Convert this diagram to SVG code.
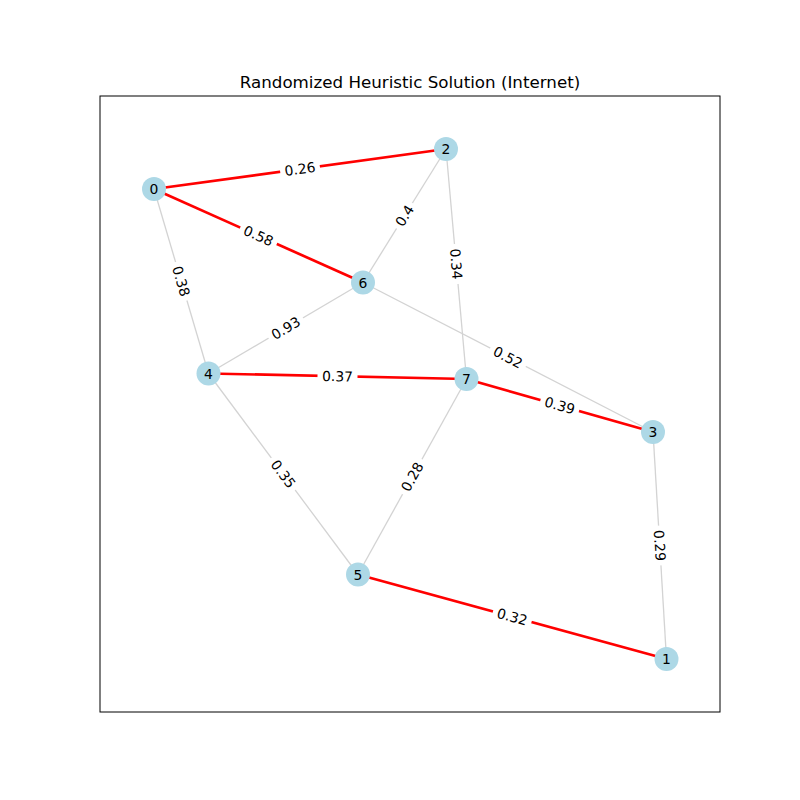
<svg xmlns="http://www.w3.org/2000/svg" width="800" height="800" viewBox="0 0 800 800">
<style>
text{font-family:"DejaVu Sans","Liberation Sans",sans-serif;fill:#000}
.title{font-size:16.7px;text-anchor:middle}
.e{stroke:#d3d3d3;stroke-width:1.3;fill:none}
.r{stroke:#ff0000;stroke-width:2.7;fill:none}
.node circle{fill:#add8e6}
.node text{font-size:13.9px;text-anchor:middle}
.lbl rect{fill:#fff}
.lbl text{font-size:13.9px;text-anchor:middle}
</style>
<rect x="0" y="0" width="800" height="800" fill="#fff"/>
<rect x="100" y="96" width="620" height="616" fill="none" stroke="#000" stroke-width="1"/>
<text class="title" x="410" y="88">Randomized Heuristic Solution (Internet)</text>
<g id="connectors">
<line class="r" x1="154" y1="189" x2="446" y2="149"/>
<line class="r" x1="154" y1="189" x2="363" y2="282.5"/>
<line class="e" x1="154" y1="189" x2="208.5" y2="373.5"/>
<line class="e" x1="446" y1="149" x2="363" y2="282.5"/>
<line class="e" x1="446" y1="149" x2="466.5" y2="379"/>
<line class="e" x1="363" y1="282.5" x2="208.5" y2="373.5"/>
<line class="e" x1="363" y1="282.5" x2="653" y2="432"/>
<line class="r" x1="208.5" y1="373.5" x2="466.5" y2="379"/>
<line class="r" x1="466.5" y1="379" x2="653" y2="432"/>
<line class="e" x1="208.5" y1="373.5" x2="358" y2="574.5"/>
<line class="e" x1="466.5" y1="379" x2="358" y2="574.5"/>
<line class="e" x1="653" y1="432" x2="666.5" y2="659"/>
<line class="r" x1="358" y1="574.5" x2="666.5" y2="659"/>
</g>
<g id="edge-labels">
<g class="lbl" transform="translate(300,169) rotate(-7.8)"><rect x="-20" y="-10" width="40" height="20" rx="4"/><text y="5">0.26</text></g>
<g class="lbl" transform="translate(258.5,235.75) rotate(24.1)"><rect x="-20" y="-10" width="40" height="20" rx="4"/><text y="5">0.58</text></g>
<g class="lbl" transform="translate(181.25,281.25) rotate(73.54)"><rect x="-20" y="-10" width="40" height="20" rx="4"/><text y="5">0.38</text></g>
<g class="lbl" transform="translate(404.5,215.75) rotate(-58.13)"><rect x="-15" y="-10" width="30" height="20" rx="4"/><text y="5">0.4</text></g>
<g class="lbl" transform="translate(456.25,264) rotate(84.9)"><rect x="-20" y="-10" width="40" height="20" rx="4"/><text y="5">0.34</text></g>
<g class="lbl" transform="translate(285.75,328) rotate(-30.5)"><rect x="-20" y="-10" width="40" height="20" rx="4"/><text y="5">0.93</text></g>
<g class="lbl" transform="translate(508,357.25) rotate(27.27)"><rect x="-20" y="-10" width="40" height="20" rx="4"/><text y="5">0.52</text></g>
<g class="lbl" transform="translate(337.5,376.25) rotate(1.22)"><rect x="-20" y="-10" width="40" height="20" rx="4"/><text y="5">0.37</text></g>
<g class="lbl" transform="translate(559.75,405.5) rotate(15.86)"><rect x="-20" y="-10" width="40" height="20" rx="4"/><text y="5">0.39</text></g>
<g class="lbl" transform="translate(283.25,474) rotate(53.35)"><rect x="-20" y="-10" width="40" height="20" rx="4"/><text y="5">0.35</text></g>
<g class="lbl" transform="translate(412.25,476.75) rotate(-60.97)"><rect x="-20" y="-10" width="40" height="20" rx="4"/><text y="5">0.28</text></g>
<g class="lbl" transform="translate(659.75,545.5) rotate(86.6)"><rect x="-20" y="-10" width="40" height="20" rx="4"/><text y="5">0.29</text></g>
<g class="lbl" transform="translate(512.25,616.75) rotate(15.32)"><rect x="-20" y="-10" width="40" height="20" rx="4"/><text y="5">0.32</text></g>
</g>
<g id="node-0" class="node"><circle cx="154" cy="189" r="12"/><text x="154" y="194">0</text></g>
<g id="node-1" class="node"><circle cx="666.5" cy="659" r="12"/><text x="666.5" y="664">1</text></g>
<g id="node-2" class="node"><circle cx="446" cy="149" r="12"/><text x="446" y="154">2</text></g>
<g id="node-3" class="node"><circle cx="653" cy="432" r="12"/><text x="653" y="437">3</text></g>
<g id="node-4" class="node"><circle cx="208.5" cy="373.5" r="12"/><text x="208.5" y="378.5">4</text></g>
<g id="node-5" class="node"><circle cx="358" cy="574.5" r="12"/><text x="358" y="579.5">5</text></g>
<g id="node-6" class="node"><circle cx="363" cy="282.5" r="12"/><text x="363" y="287.5">6</text></g>
<g id="node-7" class="node"><circle cx="466.5" cy="379" r="12"/><text x="466.5" y="384">7</text></g>
</svg>
